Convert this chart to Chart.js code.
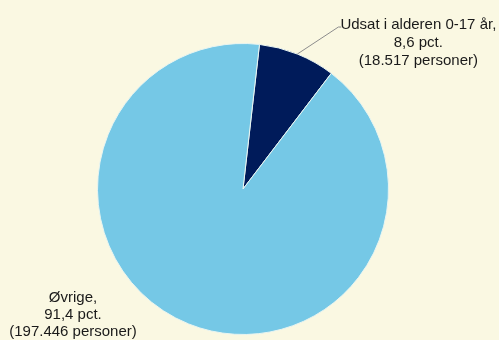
<!DOCTYPE html>
<html>
<head>
<meta charset="utf-8">
<script src="https://cdn.jsdelivr.net/npm/chart.js@4.4.1/dist/chart.umd.min.js"></script>
<style>
    html, body { margin: 0; padding: 0; background: #FAF8E2; }
    #wrap { width: 499px; height: 340px; }
</style>
</head>
<body>
<div id="wrap"><canvas id="pieChart" width="499" height="340"></canvas></div>
<script>
// ===== Udsatte børn og unge – fordeling =====
const categories = ['Udsat i alderen 0-17 år', 'Øvrige'];
const persons = [18517, 197446];
const sliceColors = ['#001B5A', '#75C8E6'];

const total = persons.reduce((a, b) => a + b, 0);

function fmtPct(v) {
    return (v / total * 100).toFixed(1).replace('.', ',');
}

function fmtNum(v) {
    return v.toString().replace(/\B(?=(\d{3})+(?!\d))/g, '.');
}

// Labels drawn next to the pie, with a leader line for the small slice
const pieLabels = {
    id: 'pieLabels',
    afterDraw(chart) {
        const ctx = chart.ctx;
        const arcs = chart.getDatasetMeta(0).data;
        ctx.save();
        ctx.font = '15px "Liberation Sans", Arial, sans-serif';
        ctx.fillStyle = '#1A1A1A';
        ctx.textAlign = 'center';
        ctx.textBaseline = 'alphabetic';

        // small slice: leader line from the middle of the outer edge
        const a = arcs[0];
        const mid = (a.startAngle + a.endAngle) / 2;
        const x0 = a.x + Math.cos(mid) * a.outerRadius;
        const y0 = a.y + Math.sin(mid) * a.outerRadius;
        const ex = x0 + 41, ey = y0 - 27;
        ctx.strokeStyle = '#8C8C8C';
        ctx.lineWidth = 1;
        ctx.beginPath();
        ctx.moveTo(x0, y0);
        ctx.lineTo(ex, ey);
        ctx.lineTo(ex + 3, ey);
        ctx.stroke();

        const tx = ex + 80;
        ctx.fillText(categories[0] + ',', tx, ey + 2);
        ctx.fillText(fmtPct(persons[0]) + ' pct.', tx, ey + 20);
        ctx.fillText('(' + fmtNum(persons[0]) + ' personer)', tx, ey + 38);

        // large slice: text in the lower left corner
        const b = arcs[1];
        const bx = b.x - 170, by = b.y + 113;
        ctx.fillText(categories[1] + ',', bx, by);
        ctx.fillText(fmtPct(persons[1]) + ' pct.', bx, by + 17);
        ctx.fillText('(' + fmtNum(persons[1]) + ' personer)', bx, by + 34);
        ctx.restore();
    }
};

new Chart(document.getElementById('pieChart'), {
    type: 'pie',
    data: {
        labels: categories,
        datasets: [{
            data: persons,
            backgroundColor: sliceColors,
            borderColor: '#E8F4F0',
            borderWidth: 1
        }]
    },
    options: {
        responsive: false,
        animation: false,
        rotation: 6.5,
        layout: { padding: { top: 43, bottom: 5, left: 0, right: 13 } },
        plugins: {
            legend: { display: false },
            tooltip: { enabled: false }
        }
    },
    plugins: [pieLabels]
});
</script>
</body>
</html>
